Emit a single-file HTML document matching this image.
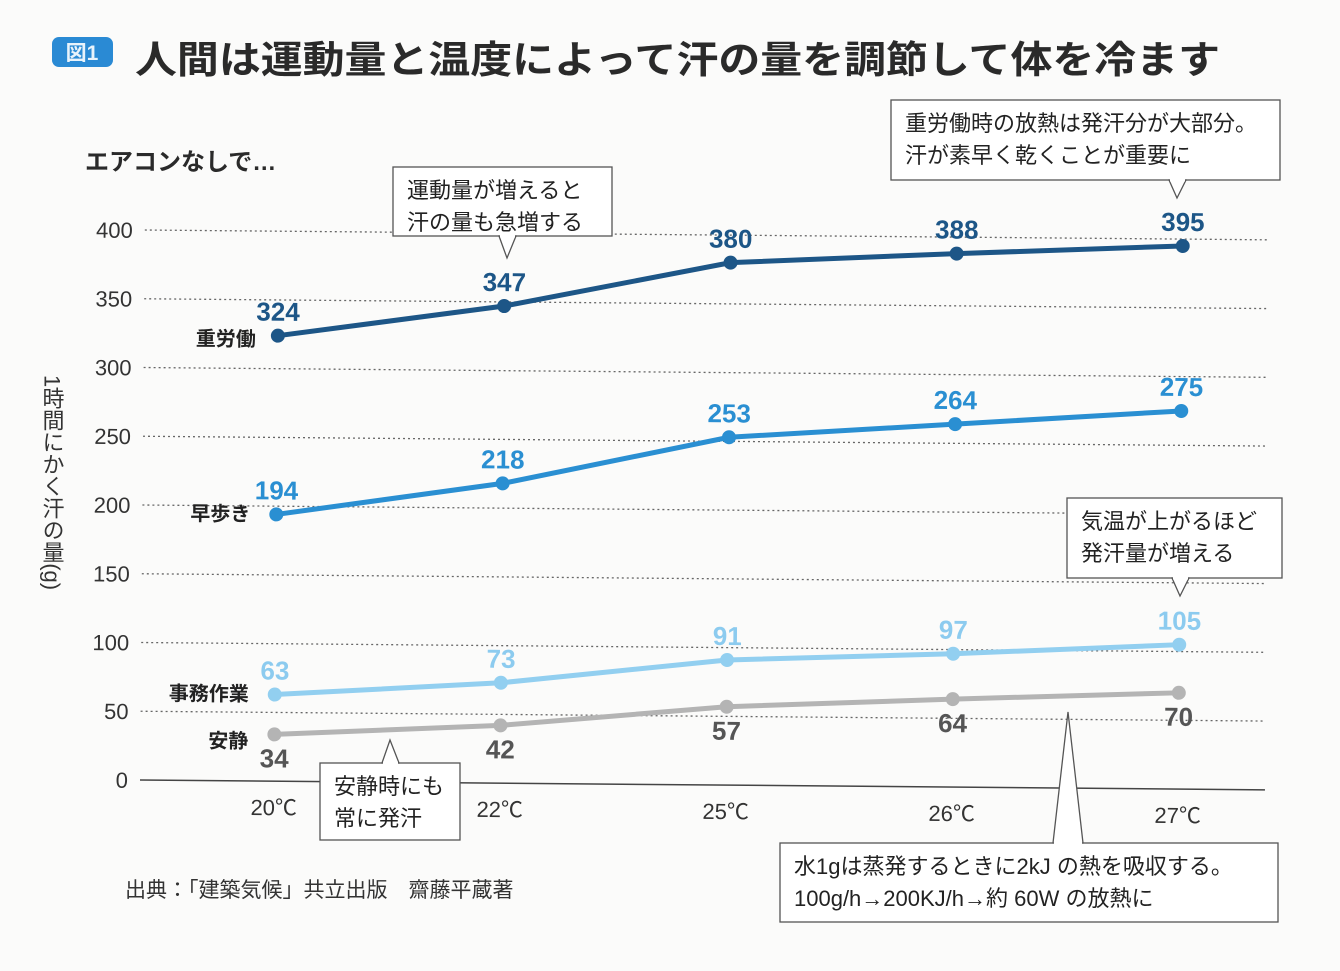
<!DOCTYPE html>
<html><head><meta charset="utf-8">
<style>
html,body{margin:0;padding:0;background:#fbfbfa;}
svg{display:block;font-family:"Liberation Sans","Noto Sans CJK JP",sans-serif;}
</style></head>
<body>
<svg id="chart" width="1340" height="971" viewBox="0 0 1340 971">
  <rect x="0" y="0" width="1340" height="971" fill="#fbfbfa"/>
  <g>
    <rect x="52" y="37" width="61" height="30" rx="7" fill="#2a8ad4"/>
    <text x="82" y="60" font-size="21" font-weight="bold" fill="#e8f3fb" text-anchor="middle">図1</text>
    <text x="135" y="73" font-size="38" font-weight="bold" fill="#2a2a2a" textLength="1085" lengthAdjust="spacingAndGlyphs">人間は運動量と温度によって汗の量を調節して体を冷ます</text>
  </g>
  <text x="85" y="170" font-size="24" font-weight="bold" fill="#2a2a2a">エアコンなしで…</text>
  <text x="32" y="375" font-size="22" fill="#333" style="writing-mode:vertical-rl" transform="translate(20,0)">1時間にかく汗の量(g)</text>
  <g id="plot" transform="rotate(0.5,140,780)"></g>
  <g id="callouts"></g>
  <text x="125" y="897" font-size="21" fill="#333">出典：「建築気候」共立出版　齋藤平蔵著</text>
</svg>
<script>
const categories = ["20℃","22℃","25℃","26℃","27℃"];
const yTicks = [0,50,100,150,200,250,300,350,400];
const seriesNames = ["重労働","早歩き","事務作業","安静"];
const heavyWork = [324,347,380,388,395];
const fastWalk = [194,218,253,264,275];
const officeWork = [63,73,91,97,105];
const resting = [34,42,57,64,70];

const NS="http://www.w3.org/2000/svg";
const plot=document.getElementById('plot');
const xS=i=>274+i*226;
const yS=v=>780-v*1.375;
function mk(tag,attrs,parent,text){const e=document.createElementNS(NS,tag);for(const k in attrs)e.setAttribute(k,attrs[k]);if(text!==undefined)e.textContent=text;(parent||plot).appendChild(e);return e;}

yTicks.forEach(t=>{
  const g=mk('line',{x1:140,x2:1265,y1:yS(t),y2:yS(t),stroke:t===0?'#444':'#666','stroke-width':t===0?1.5:1.3,'stroke-dasharray':t===0?'':'2 3'});
  
  
  const l=mk('text',{x:128,y:yS(t)+8,'font-size':22,fill:'#333','text-anchor':'end'},plot,String(t));
  
  
});
categories.forEach((c,i)=>{
  const l=mk('text',{x:xS(i),y:814,'font-size':22,fill:'#333','text-anchor':'middle'},plot,c);
  
  
});

const all=[heavyWork,fastWalk,officeWork,resting];
const colors=['#1d5687','#2a8fd2','#92cff0','#b4b4b4'];
const labColors=['#1d5687','#2a8fd2','#8ccbef','#555'];
const nameY=[345,520,700,747];
const nameX=[252,248,248,248];
all.forEach((d,s)=>{
  const pts=d.map((v,i)=>xS(i)+','+yS(v)).join(' ');
  const pl=mk('polyline',{points:pts,fill:'none',stroke:colors[s],'stroke-width':5});
  
  
  d.forEach((v,i)=>{
    const c=mk('circle',{cx:xS(i),cy:yS(v),r:7,fill:colors[s]});
    
    
    const ly=s===3?yS(v)+33:yS(v)-15;
    const t=mk('text',{x:xS(i),y:ly,'font-size':26,'font-weight':'bold',fill:labColors[s],'text-anchor':'middle'},plot,String(v));
    
    
  });
  const n=mk('text',{x:nameX[s],y:nameY[s],'font-size':20,'font-weight':'bold',fill:'#222','text-anchor':'end'},plot,seriesNames[s]);
  
  
});

const co=document.getElementById('callouts');
function callout(name,x,y,w,h,lines,ptr){
  const g=mk('g',{},co);
  
  
  mk('rect',{x:x,y:y,width:w,height:h,fill:'#fff',stroke:'#555','stroke-width':1.3},g);
  const [bl,br,tx,ty,side]=ptr;
  const by=side==='down'?y+h:y;
  mk('polygon',{points:`${bl},${by} ${tx},${ty} ${br},${by}`,fill:'#fff',stroke:'#555','stroke-width':1.3},g);
  mk('line',{x1:bl+1,x2:br-1,y1:by,y2:by,stroke:'#fff','stroke-width':3},g);
  lines.forEach((t,i)=>mk('text',{x:x+14,y:y+31+i*32,'font-size':22,fill:'#222'},g,t));
}
callout('callout-exercise',393,167,219,69,['運動量が増えると','汗の量も急増する'],[499,516,507,258,'down']);
callout('callout-heavy-work',891,100,389,80,['重労働時の放熱は発汗分が大部分。','汗が素早く乾くことが重要に'],[1169,1186,1177,198,'down']);
callout('callout-temperature',1067,498,215,80,['気温が上がるほど','発汗量が増える'],[1172,1189,1180,596,'down']);
callout('callout-resting',320,763,140,77,['安静時にも','常に発汗'],[382,399,390,740,'up']);
callout('callout-water',780,843,498,79,['水1gは蒸発するときに2kJ の熱を吸収する。','100g/h→200KJ/h→約 60W の放熱に'],[1053,1083,1068,712,'up']);
</script>
</body></html>
